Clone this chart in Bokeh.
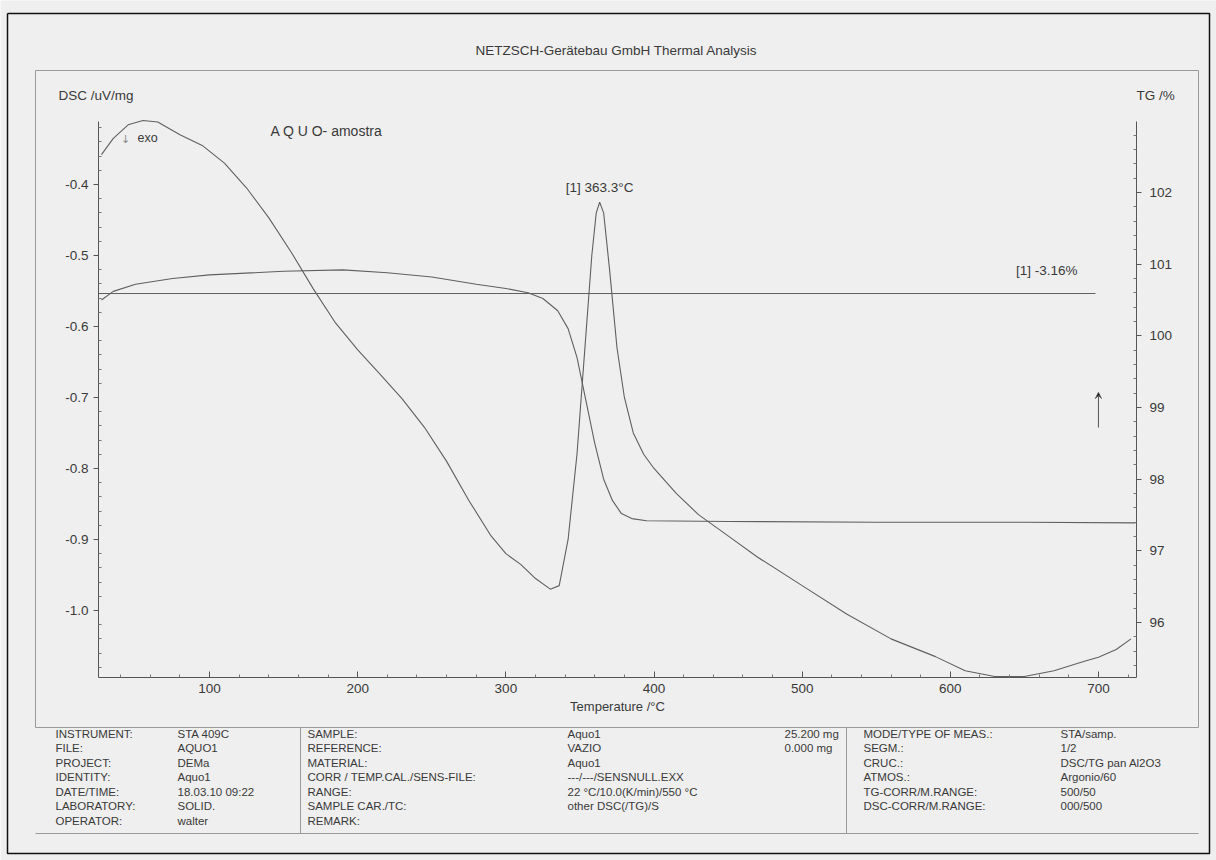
from bokeh.plotting import figure
from bokeh.models import (Range1d, LinearAxis, Label, Arrow, VeeHead,
                          NumeralTickFormatter, FixedTicker)
from bokeh.core.properties import value
from bokeh.embed import file_html
from bokeh.resources import INLINE

# ---------------- data ----------------
temp_dsc = [27, 35, 45, 55, 65, 80, 95, 110, 125, 140, 155, 170, 185, 200, 215, 230, 245,
            260, 275, 290, 300, 310, 320, 330, 336, 342, 348, 353, 358, 361, 363.3, 366,
            370, 375, 380, 386, 393, 400, 415, 430, 450, 470, 500, 530, 560, 590, 610,
            630, 650, 670, 690, 700, 712, 722]
dsc = [-0.358, -0.335, -0.316, -0.310, -0.312, -0.330, -0.345, -0.370, -0.405, -0.447,
       -0.495, -0.547, -0.595, -0.633, -0.667, -0.702, -0.742, -0.790, -0.845, -0.895,
       -0.920, -0.935, -0.955, -0.970, -0.965, -0.900, -0.780, -0.640, -0.500, -0.440,
       -0.425, -0.440, -0.520, -0.630, -0.700, -0.750, -0.780, -0.800, -0.835, -0.865,
       -0.895, -0.925, -0.965, -1.005, -1.040, -1.065, -1.085, -1.093, -1.093, -1.085,
       -1.072, -1.066, -1.055, -1.040]

temp_tg = [27, 35, 50, 75, 100, 150, 190, 220, 250, 280, 300, 315, 325, 335, 342, 348,
           354, 360, 366, 372, 378, 385, 395, 450, 550, 650, 725]
tg = [100.50, 100.62, 100.72, 100.80, 100.85, 100.90, 100.92, 100.88, 100.82, 100.72,
      100.66, 100.60, 100.52, 100.35, 100.10, 99.70, 99.10, 98.50, 98.00, 97.70, 97.52,
      97.45, 97.42, 97.41, 97.40, 97.40, 97.39]

peak_temp = 363.3
peak_dsc = -0.425
peak_text = "[1] 363.3°C"
step_top = 100.59
step_span = [25, 698]
step_text = "[1] -3.16%"
arrow_temp = 700
arrow_tg = [98.72, 99.21]

x_ticks = [100, 200, 300, 400, 500, 600, 700]
dsc_ticks = [-1.0, -0.9, -0.8, -0.7, -0.6, -0.5, -0.4]
tg_ticks = [96, 97, 98, 99, 100, 101, 102]

col1_keys = ["INSTRUMENT:", "FILE:", "PROJECT:", "IDENTITY:", "DATE/TIME:", "LABORATORY:", "OPERATOR:"]
col1_vals = ["STA 409C", "AQUO1", "DEMa", "Aquo1", "18.03.10 09:22", "SOLID.", "walter"]
col2_keys = ["SAMPLE:", "REFERENCE:", "MATERIAL:", "CORR / TEMP.CAL./SENS-FILE:", "RANGE:",
             "SAMPLE CAR./TC:", "REMARK:"]
col2_vals = ["Aquo1", "VAZIO", "Aquo1", "---/---/SENSNULL.EXX", "22 °C/10.0(K/min)/550 °C",
             "other DSC(/TG)/S", ""]
col2_mass = ["25.200 mg", "0.000 mg"]
col3_keys = ["MODE/TYPE OF MEAS.:", "SEGM.:", "CRUC.:", "ATMOS.:", "TG-CORR/M.RANGE:",
             "DSC-CORR/M.RANGE:"]
col3_vals = ["STA/samp.", "1/2", "DSC/TG pan Al2O3", "Argonio/60", "500/50", "000/500"]

# ---------------- layout ----------------
W, H = 1216, 860
FL, FR, FT, FB = 98, 1136, 121, 677          # plot area on the page (pixels)
T0, T1 = 25.0, 725.7                          # temperature extent of plot area
D0, D1 = -1.0944, -0.3113                     # DSC extent
G0, G1 = 95.233, 102.99                       # TG extent
BG = "#efefef"
INK = "#3a3a3a"
CURVE = "#606060"
FRAME = "#9a9a9a"
FONT = "Liberation Sans"

kx = (FR - FL) / (T1 - T0)
kd = (FB - FT) / (D1 - D0)
kg = (FB - FT) / (G1 - G0)

p = figure(width=W, height=H, output_backend="svg", toolbar_location=None,
           x_range=Range1d(T0 - FL / kx, T1 + (W - FR) / kx),
           y_range=Range1d(D0 - (H - FB) / kd, D1 + FT / kd),
           x_axis_location=None, y_axis_location=None, min_border=0)
p.background_fill_color = BG
p.border_fill_color = BG
p.outline_line_color = None
p.grid.visible = False
p.extra_y_ranges = {"tg": Range1d(G0 - (H - FB) / kg, G1 + FT / kg),
                    "py": Range1d(H, 0)}
p.extra_x_ranges = {"px": Range1d(0, W)}

minor_x = [t for t in range(40, 721, 20) if t % 100 != 0]
xa = LinearAxis(fixed_location=D0, bounds=(T0, T1))
xa.ticker = FixedTicker(ticks=x_ticks, minor_ticks=minor_x)
xa.axis_label = "Temperature /°C"
xa.axis_label_text_font = FONT
xa.axis_label_text_font_style = "normal"
xa.axis_label_text_font_size = "13px"
xa.axis_label_text_color = INK
xa.axis_label_standoff = 3
xa.major_tick_in = 6
xa.major_tick_out = 0
xa.minor_tick_in = 3
xa.minor_tick_out = 0
xa.major_label_standoff = 6
p.add_layout(xa, "below")

minor_dsc = [round(-1.08 + 0.02 * i, 2) for i in range(39)]
ya = LinearAxis(fixed_location=T0, bounds=(D0, D1))
ya.ticker = FixedTicker(ticks=dsc_ticks, minor_ticks=[m for m in minor_dsc if m not in dsc_ticks])
ya.formatter = NumeralTickFormatter(format="0.0")
ya.major_tick_in = 0
ya.major_tick_out = 5
ya.minor_tick_in = 3
ya.minor_tick_out = 0
ya.major_label_standoff = 5
p.add_layout(ya, "left")

minor_tg = [round(95.4 + 0.2 * i, 1) for i in range(38)]
ra = LinearAxis(y_range_name="tg", fixed_location=T1, bounds=(G0, G1))
ra.ticker = FixedTicker(ticks=tg_ticks, minor_ticks=[m for m in minor_tg if m not in tg_ticks])
ra.formatter = NumeralTickFormatter(format="0")
ra.major_tick_in = 0
ra.major_tick_out = 5
ra.minor_tick_in = 3
ra.minor_tick_out = 0
ra.major_label_standoff = 8
p.add_layout(ra, "right")

for ax in (xa, ya, ra):
    ax.axis_line_color = "#555555"
    ax.major_tick_line_color = "#555555"
    ax.minor_tick_line_color = "#777777"
    ax.major_label_text_font = FONT
    ax.major_label_text_font_size = "13.5px"
    ax.major_label_text_color = INK

# curves
p.line(temp_dsc, dsc, line_color=CURVE, line_width=1.1)
p.line(temp_tg, tg, line_color=CURVE, line_width=1.1, y_range_name="tg")
p.line(step_span, [step_top, step_top], line_color=CURVE, line_width=1.0, y_range_name="tg")

p.add_layout(Arrow(x_start=arrow_temp, y_start=arrow_tg[0], x_end=arrow_temp, y_end=arrow_tg[1],
                   y_range_name="tg", line_color="#555555", line_width=1,
                   end=VeeHead(size=6, line_color="#555555", line_width=1)))

p.add_layout(Label(x=peak_temp, y=peak_dsc, y_offset=15, text=peak_text, text_align="center",
                   text_baseline="middle", text_font=FONT, text_font_size="13.5px",
                   text_color=INK))
p.add_layout(Label(x=step_span[1], y=step_top, x_offset=-18, y_offset=23, y_range_name="tg",
                   text=step_text, text_align="right", text_baseline="middle", text_font=FONT,
                   text_font_size="13.5px", text_color=INK))

# ---------------- page furniture (pixel coordinates) ----------------
frame_xs = [[35, 35, 1198, 1198], [35, 1198], [35, 1198], [300, 300], [846, 846]]
frame_ys = [[727, 70, 70, 727], [727, 727], [833, 833], [727, 833], [727, 833]]
p.multi_line(frame_xs, frame_ys, line_color=FRAME, line_width=1.0,
             x_range_name="px", y_range_name="py")
p.multi_line([[7, 1209, 1209, 7, 7]], [[13, 13, 853, 853, 13]], line_color="#111111",
             line_width=1.5, x_range_name="px", y_range_name="py")

texts, tx, ty, tsize, talign = [], [], [], [], []


def put(text, cx, cy, size="11.5px", align="left"):
    texts.append(text)
    tx.append(cx)
    ty.append(cy)
    tsize.append(size)
    talign.append(align)


put("NETZSCH-Gerätebau GmbH Thermal Analysis", 616, 50, size="13.5px", align="center")
put("DSC /uV/mg", 58, 95, size="13.5px")
put("TG /%", 1136, 95, size="13.5px")
put("A Q U O- amostra", 270, 130, size="14px")
put("exo", 137, 137, size="12.5px")

row_y = [733 + 14.5 * i for i in range(7)]
for i, y in enumerate(row_y):
    put(col1_keys[i], 55, y)
    put(col1_vals[i], 177, y)
    put(col2_keys[i], 307, y)
    if col2_vals[i]:
        put(col2_vals[i], 567, y)
for i, t in enumerate(col2_mass):
    put(t, 784, row_y[i])
for i, t in enumerate(col3_keys):
    put(t, 863, row_y[i])
    put(col3_vals[i], 1060, row_y[i])

p.text(x=tx, y=ty, text=texts, text_font=value(FONT), text_font_size=tsize,
       text_align=talign, text_baseline="middle", text_color=INK,
       x_range_name="px", y_range_name="py")
p.text(x=[125], y=[139], text=["↓"], text_font=value("DejaVu Sans"), text_font_size="11px",
       text_align="center", text_baseline="middle", text_color="#8a8a8a",
       x_range_name="px", y_range_name="py")

open("out.html", "w").write(file_html(p, INLINE))
